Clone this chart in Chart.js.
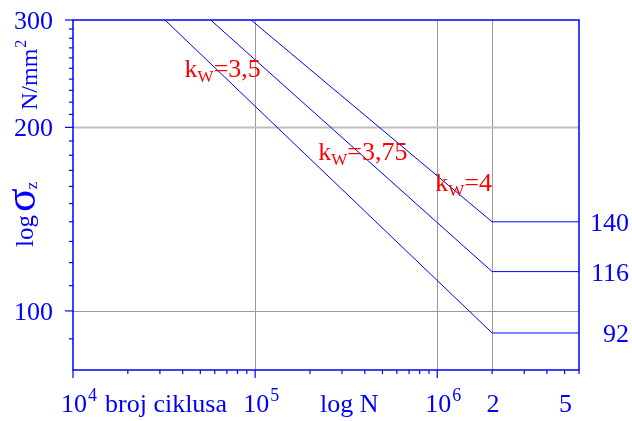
<!DOCTYPE html>
<html>
<head>
<meta charset="utf-8">
<script src="https://cdn.jsdelivr.net/npm/chart.js@4.4.1/dist/chart.umd.min.js"></script>
<style>
  html, body { margin: 0; padding: 0; background: #fff; }
  #wrap { width: 632px; height: 421px; }
</style>
</head>
<body>
<div id="wrap"><canvas id="sn"></canvas></div>
<script>
// Woehler lines, log N vs log sigma
const curveK = ["4", "3,75", "3,5"];
const startN = [95000, 57000, 32000];   // where each line leaves the 300 edge
const startSigma = [300, 300, 300];
const kneeN = [2e6, 2e6, 2e6];
const kneeSigma = [140, 116, 92];
const endN = [6e6, 6e6, 6e6];

// where the k_W texts sit (left end, baseline)
const labelN = [9.75e5, 2.22e5, 4.1e4];
const labelSigma = [157, 177, 242];

const xTickValues = [1e4, 1e5, 1e6, 2e6, 5e6];
const xTickBase = ["10", "10", "10", "2", "5"];
const xTickExp = ["4", "5", "6", "", ""];
const yTickValues = [100, 200, 300];
const xGrid = [1e5, 1e6, 2e6];
const yGrid = [100, 200];

const BLUE = "#0000ff";
const RED = "#ff0000";
const SERIF = "'Liberation Serif', 'DejaVu Serif', serif";

function seg(ctx, x1, y1, x2, y2) {
  ctx.beginPath();
  ctx.moveTo(x1, y1);
  ctx.lineTo(x2, y2);
  ctx.stroke();
}

const decor = {
  id: "decor",
  beforeDatasetsDraw(chart) {
    const { ctx, chartArea: a, scales: { x, y } } = chart;
    ctx.save();
    ctx.strokeStyle = "#9a9a9a";
    ctx.lineWidth = 1;
    xGrid.forEach(v => {
      const px = Math.round(x.getPixelForValue(v)) + 0.5;
      seg(ctx, px, a.top, px, a.bottom);
    });
    yGrid.forEach(v => {
      const py = Math.round(y.getPixelForValue(v)) + 0.5;
      ctx.strokeStyle = v === 200 ? "#bdbdbd" : "#9a9a9a";
      ctx.lineWidth = v === 200 ? 2 : 1;
      seg(ctx, a.left, py, a.right, py);
    });
    ctx.restore();
  },
  afterDatasetsDraw(chart) {
    const { ctx, chartArea: a, scales: { x, y } } = chart;
    ctx.save();
    ctx.strokeStyle = BLUE;
    ctx.lineWidth = 1.5;
    ctx.strokeRect(a.left, a.top, a.right - a.left, a.bottom - a.top);

    // y ticks (outside, left)
    ctx.lineWidth = 1.2;
    yTickValues.forEach(v => {
      const py = y.getPixelForValue(v);
      seg(ctx, a.left - 8, py, a.left, py);
    });
    for (let v = 90; v < 300; v += 10) {
      if (v === 100 || v === 200) continue;
      const py = y.getPixelForValue(v);
      seg(ctx, a.left - 4, py, a.left, py);
    }
    // x ticks (outside, below)
    [1e4, 1e5, 1e6].forEach(d => {
      seg(ctx, x.getPixelForValue(d), a.bottom, x.getPixelForValue(d), a.bottom + 8);
      for (let m = 2; m <= 9; m++) {
        const v = m * d;
        if (v > x.max) break;
        const px = x.getPixelForValue(v);
        seg(ctx, px, a.bottom, px, a.bottom + 4);
      }
    });

    // y tick labels
    ctx.fillStyle = BLUE;
    ctx.font = "26px " + SERIF;
    ctx.textAlign = "right";
    ctx.textBaseline = "alphabetic";
    yTickValues.forEach(v => {
      ctx.fillText(String(v), a.left - 20, y.getPixelForValue(v) + 9);
    });

    // knee values on the right
    kneeSigma.forEach(v => {
      ctx.fillText(String(v), a.right + 50, y.getPixelForValue(v) + 9);
    });

    // x tick labels
    const by = a.bottom + 42;
    xTickValues.forEach((v, i) => {
      const px = x.getPixelForValue(v);
      ctx.font = "26px " + SERIF;
      ctx.textAlign = "center";
      ctx.fillText(xTickBase[i], px + 1, by);
      if (xTickExp[i]) {
        const w = ctx.measureText(xTickBase[i]).width;
        ctx.font = "18px " + SERIF;
        ctx.textAlign = "left";
        ctx.fillText(xTickExp[i], px + 1 + w / 2 + 1, by - 11);
      }
    });
    ctx.font = "26px " + SERIF;
    ctx.textAlign = "left";
    ctx.fillText("broj ciklusa", 105, by);
    ctx.fillText("log N", 320, by);

    // y axis title, rotated
    ctx.save();
    ctx.translate(37, 110);
    ctx.rotate(-Math.PI / 2);
    ctx.textAlign = "left";
    ctx.font = "24px " + SERIF;
    ctx.fillText("N/mm", 0, 0);
    let w = ctx.measureText("N/mm").width;
    ctx.font = "16px " + SERIF;
    ctx.fillText("2", w + 1, -11);
    ctx.restore();

    ctx.save();
    ctx.translate(33, 247);
    ctx.rotate(-Math.PI / 2);
    ctx.textAlign = "left";
    ctx.font = "25px " + SERIF;
    ctx.fillText("log", 0, 0);
    w = ctx.measureText("log").width + 3;
    ctx.font = "44px " + SERIF;
    ctx.fillText("σ", w, 2);
    w += ctx.measureText("σ").width;
    ctx.font = "17px " + SERIF;
    ctx.fillText("z", w - 1, 4);
    ctx.restore();

    // k_W annotations
    ctx.fillStyle = RED;
    ctx.textAlign = "left";
    curveK.forEach((k, i) => {
      let px = x.getPixelForValue(labelN[i]);
      const py = y.getPixelForValue(labelSigma[i]);
      ctx.font = "26px " + SERIF;
      ctx.fillText("k", px, py);
      px += ctx.measureText("k").width;
      ctx.font = "17px " + SERIF;
      ctx.fillText("W", px, py + 5);
      px += ctx.measureText("W").width;
      ctx.font = "26px " + SERIF;
      ctx.fillText("=" + k, px, py);
    });
    ctx.restore();
  }
};

const datasets = curveK.map((k, i) => ({
  label: "k_W=" + k,
  data: [
    { x: startN[i], y: startSigma[i] },
    { x: kneeN[i], y: kneeSigma[i] },
    { x: endN[i], y: kneeSigma[i] }
  ],
  showLine: true,
  borderColor: BLUE,
  borderWidth: 1,
  pointRadius: 0,
  fill: false,
  tension: 0
}));

new Chart(document.getElementById("sn"), {
  type: "scatter",
  data: { datasets: datasets },
  options: {
    responsive: true,
    maintainAspectRatio: false,
    animation: false,
    layout: { padding: { left: 73, top: 20, right: 53, bottom: 51 } },
    plugins: { legend: { display: false }, tooltip: { enabled: false } },
    scales: {
      x: { type: "logarithmic", min: 1e4, max: 6e6, display: false },
      y: { type: "logarithmic", min: 80, max: 300, display: false }
    }
  },
  plugins: [decor]
});
</script>
</body>
</html>
